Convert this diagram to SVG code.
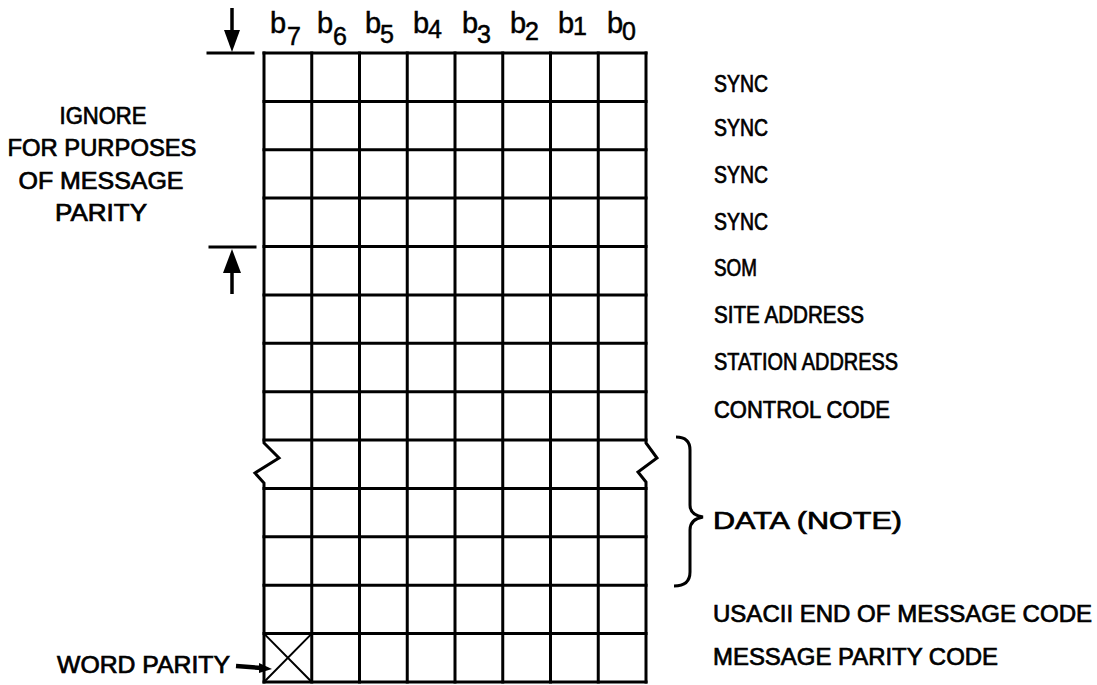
<svg xmlns="http://www.w3.org/2000/svg" width="1097" height="685" viewBox="0 0 1097 685">
<style>
  .ln{stroke:#000;stroke-width:3;fill:none;stroke-linecap:square}
  .thin{stroke:#000;stroke-width:2;fill:none}
  .lbl{font-family:"Liberation Sans",Arial,sans-serif;font-size:23px;fill:#000;stroke:#000;stroke-width:0.7}
  .bit{font-family:"Liberation Sans",Arial,sans-serif;font-size:29px;fill:#000;stroke:#000;stroke-width:0.5}
  .sub{font-size:25px}
  .ctr{text-anchor:middle}
</style>
<rect x="0" y="0" width="1097" height="685" fill="#fff"/>

<g id="bit-header">
  <text class="bit" x="270" y="33">b<tspan class="sub" x="287" y="45">7</tspan></text>
  <text class="bit" x="317" y="33">b<tspan class="sub" x="333" y="45">6</tspan></text>
  <text class="bit" x="365" y="33">b<tspan class="sub" x="380" y="43">5</tspan></text>
  <text class="bit" x="413" y="33">b<tspan class="sub" x="428" y="38">4</tspan></text>
  <text class="bit" x="462" y="33">b<tspan class="sub" x="477" y="43">3</tspan></text>
  <text class="bit" x="510" y="33">b<tspan class="sub" x="525" y="40">2</tspan></text>
  <text class="bit" x="558" y="33">b<tspan class="sub" x="573" y="35">1</tspan></text>
  <text class="bit" x="607" y="33">b<tspan class="sub" x="622" y="40">0</tspan></text>
</g>

<g id="grid">
  <g class="ln">
    <path d="M264,53 V443 L279,458 L255,473 L264,483 V682"/>
    <path d="M646,53 V443 L657,458 L638,472 L646,482 V682"/>
    <path d="M311.75,53 V682 M359.5,53 V682 M407.25,53 V682 M455,53 V682 M502.75,53 V682 M550.5,53 V682 M598.25,53 V682"/>
    <path d="M264,53 H646 M264,101.4 H646 M264,149.8 H646 M264,198.1 H646 M264,246.5 H646 M264,294.9 H646 M264,343.3 H646 M264,391.7 H646 M264,440 H646 M264,488.4 H646 M264,536.8 H646 M264,585.2 H646 M264,633.6 H646 M264,682 H646"/>
  </g>
  <path class="thin" d="M264,633.6 L311.75,682 M311.75,633.6 L264,682"/>
</g>

<g id="row-labels">
  <text class="lbl" x="714" y="92" textLength="54" lengthAdjust="spacingAndGlyphs">SYNC</text>
  <text class="lbl" x="714" y="136" textLength="54" lengthAdjust="spacingAndGlyphs">SYNC</text>
  <text class="lbl" x="714" y="183" textLength="54" lengthAdjust="spacingAndGlyphs">SYNC</text>
  <text class="lbl" x="714" y="230" textLength="54" lengthAdjust="spacingAndGlyphs">SYNC</text>
  <text class="lbl" x="714" y="276" textLength="43" lengthAdjust="spacingAndGlyphs">SOM</text>
  <text class="lbl" x="714" y="323" textLength="150" lengthAdjust="spacingAndGlyphs">SITE ADDRESS</text>
  <text class="lbl" x="714" y="370" textLength="184" lengthAdjust="spacingAndGlyphs">STATION ADDRESS</text>
  <text class="lbl" x="714" y="418" textLength="176" lengthAdjust="spacingAndGlyphs">CONTROL CODE</text>
  <text class="lbl" x="713" y="529" textLength="189" lengthAdjust="spacingAndGlyphs">DATA (NOTE)</text>
  <text class="lbl" x="713" y="622" textLength="379" lengthAdjust="spacingAndGlyphs">USACII END OF MESSAGE CODE</text>
  <text class="lbl" x="713" y="665" textLength="285" lengthAdjust="spacingAndGlyphs">MESSAGE PARITY CODE</text>
</g>

<g id="ignore-note">
  <text class="lbl ctr" x="103" y="124" textLength="87" lengthAdjust="spacingAndGlyphs">IGNORE</text>
  <text class="lbl ctr" x="102" y="156" textLength="189" lengthAdjust="spacingAndGlyphs">FOR PURPOSES</text>
  <text class="lbl ctr" x="101" y="189" textLength="165" lengthAdjust="spacingAndGlyphs">OF MESSAGE</text>
  <text class="lbl ctr" x="101" y="221" textLength="92" lengthAdjust="spacingAndGlyphs">PARITY</text>
</g>

<g id="word-parity">
  <text class="lbl" x="57" y="673" textLength="173" lengthAdjust="spacingAndGlyphs">WORD PARITY</text>
</g>

<g id="connectors">
  <path class="ln" d="M208,53 H253"/>
  <path d="M232,8 V33" stroke="#000" stroke-width="3.5" fill="none"/>
  <polygon points="224,30 240,30 232,52" fill="#000"/>
  <path class="ln" d="M210,247 H255"/>
  <polygon points="232,249 223,273 241,273" fill="#000"/>
  <path d="M232,270 V294" stroke="#000" stroke-width="3.5" fill="none"/>
  <path d="M236,666 L262,668" stroke="#000" stroke-width="4.5" fill="none"/>
  <polygon points="259,663 272,669 259,673" fill="#000"/>
  <path d="M676,437 Q690,437 690,450 L690,505 Q690,515 703,517 Q690,519 690,530 L690,572 Q690,586 674,586" stroke="#000" stroke-width="3" fill="none"/>
</g>
</svg>
